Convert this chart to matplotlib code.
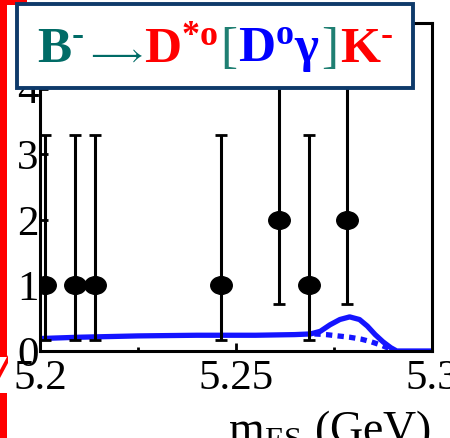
import numpy as np
import matplotlib
matplotlib.use("Agg")
import matplotlib.pyplot as plt
from matplotlib.patches import Rectangle, Polygon
from matplotlib.path import Path
from matplotlib.transforms import Affine2D
from matplotlib.offsetbox import TextArea, HPacker, AnchoredOffsetbox

plt.rcParams["font.family"] = "serif"
plt.rcParams["font.serif"] = ["Liberation Serif", "DejaVu Serif"]
plt.rcParams["mathtext.fontset"] = "custom"
plt.rcParams["mathtext.rm"] = "Liberation Serif"
plt.rcParams["mathtext.it"] = "Liberation Serif:italic"
plt.rcParams["mathtext.bf"] = "Liberation Serif:bold"

# candidate events in mES
mes_events = [5.2013, 5.2089, 5.2140, 5.2462, 5.2610, 5.2686, 5.2784]
counts = [1, 1, 1, 1, 2, 1, 2]
err_low = [0.83, 0.83, 0.83, 0.83, 1.29, 0.83, 1.29]
err_high = [2.30, 2.30, 2.30, 2.30, 2.64, 2.30, 2.64]

# fit: total (signal + background)
fit_x = [5.2000, 5.2100, 5.2250, 5.2400, 5.2550, 5.2650, 5.2690, 5.2715,
         5.2740, 5.2765, 5.2790, 5.2815, 5.2835, 5.2855, 5.2875, 5.2895,
         5.2910, 5.3000]
fit_total = [0.19, 0.21, 0.23, 0.24, 0.24, 0.25, 0.26, 0.30,
             0.40, 0.48, 0.52, 0.48, 0.38, 0.25, 0.14, 0.05,
             0.00, 0.00]
# background only
bkg_x = [5.2700, 5.2730, 5.2760, 5.2790, 5.2820, 5.2845, 5.2870, 5.2890, 5.2905]
bkg_y = [0.26, 0.25, 0.23, 0.21, 0.18, 0.14, 0.09, 0.04, 0.00]

xticks = [5.2, 5.25, 5.3]
xticklabels = ["5.2", "5.25", "5.3"]
yticks = [0, 1, 2, 3, 4]

W, H = 450, 438
fig = plt.figure(figsize=(W / 100, H / 100), dpi=100)
ax = fig.add_axes([40 / W, 87 / H, 392 / W, 328 / H])

# slightly wide dots
dot = Path.unit_circle().transformed(Affine2D().scale(1.22, 1.0))

ax.plot(fit_x, fit_total, color="#1414ff", lw=3.8, solid_joinstyle="round", zorder=2)
ax.plot(bkg_x, bkg_y, color="#1414ff", lw=3.8, ls=(0, (1.2, 1.0)), zorder=2)
ax.errorbar(mes_events, counts, yerr=[err_low, err_high], fmt="none", ecolor="black",
            elinewidth=2.2, capsize=4, capthick=2.0, zorder=3, clip_on=False)
ax.plot(mes_events, counts, ls="none", marker=dot, ms=15.5, color="black", zorder=4)

ax.set_xlim(5.2, 5.3)
ax.set_ylim(0, 5)
ax.set_xticks(xticks)
ax.set_xticklabels(xticklabels)
ax.set_xticks([5.225, 5.275], minor=True)
ax.set_yticks(yticks)
ax.tick_params(axis="x", which="major", direction="in", length=6, width=2,
               labelsize=31, pad=6)
ax.tick_params(axis="x", which="minor", direction="in", length=3, width=2)
ax.tick_params(axis="y", direction="in", length=6, width=2, labelsize=31, pad=1)
for s in ax.spines.values():
    s.set_linewidth(2.2)

fig.text(431 / W, -5 / H, r"$\mathregular{m_{ES}}$ (GeV)", ha="right", va="baseline",
         fontsize=33)

# red slide strip on the left edge
red = "#ff0000"
fig.add_artist(Rectangle((0, (H - 357) / H), 7 / W, 357 / H, transform=fig.transFigure,
                         color=red, lw=0, zorder=10))
fig.add_artist(Rectangle((0, 0), 7 / W, (H - 393) / H, transform=fig.transFigure,
                         color=red, lw=0, zorder=10))
fig.add_artist(Rectangle((0, (H - 5) / H), 27 / W, 5 / H, transform=fig.transFigure,
                         color=red, lw=0, zorder=10))
fig.add_artist(Polygon([(8 / W, (H - 355) / H), (0, (H - 370) / H), (0, (H - 378) / H),
                        (8 / W, (H - 363) / H)], closed=True, transform=fig.transFigure,
                       color=red, lw=0, zorder=10))

# decay mode title box
fig.add_artist(Rectangle((17 / W, (H - 88) / H), 396 / W, 84 / H, transform=fig.transFigure,
                         fc="white", ec="#0e3a6a", lw=2.8, zorder=10))

teal = "#006b66"
teal2 = "#1f7f72"
blue = "#0000ff"
fs = 37
pieces = [
    ("$\\mathbf{B}^{\\mathbf{\u2010}}$", teal, fs),
    (r"$\longrightarrow$", teal, 24),
    (r"$\mathbf{D}^{\mathbf{*o}}$", red, fs),
    ("[", teal2, fs),
    (r"$\mathbf{D}^{\mathbf{o}}\mathbf{\gamma}$", blue, fs),
    ("]", teal2, fs),
    ("$\\mathbf{K}^{\\mathbf{\u2010}}$", red, fs),
]
areas = [TextArea(t, textprops=dict(color=c, fontsize=s)) for t, c, s in pieces]
row = HPacker(children=areas, align="baseline", pad=0, sep=1)
title = AnchoredOffsetbox(loc="center", child=row, frameon=False, pad=0, borderpad=0,
                          bbox_to_anchor=(215 / W, (H - 51) / H),
                          bbox_transform=fig.transFigure)
title.set_zorder(11)
fig.add_artist(title)

fig.savefig("out.png", dpi=100)
